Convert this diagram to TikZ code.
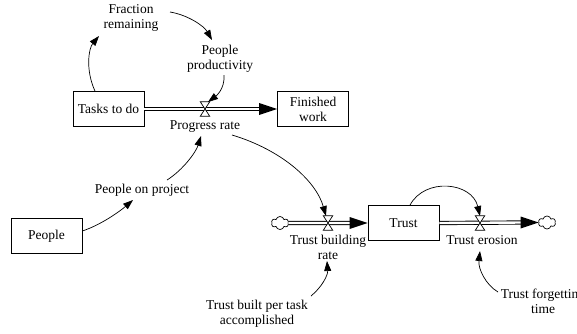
\documentclass[tikz,border=0pt]{standalone}
\usepackage{fontspec}
\setmainfont{Liberation Serif}
\usetikzlibrary{arrows.meta,calc,shapes.symbols}
\begin{document}
\begin{tikzpicture}[x=1pt,y=-1pt,
  every node/.style={font=\fontsize{13.5}{15}\selectfont, align=center},
  var/.style={inner sep=2pt},
  stock/.style={draw, line width=0.8pt, minimum width=71pt, minimum height=35pt, inner sep=1pt},
  valvept/.style={minimum width=9pt, minimum height=14pt, inner sep=0},
  valvedraw/.style={fill=white, line width=0.7pt},
  flowpipe/.style={double, double distance=2.4pt, line width=0.9pt},
  pipehead/.style={fill=black},
  infl/.style={line width=0.7pt, -{Triangle[length=10pt,width=7pt]}},
  cloudsrc/.style={cloud, draw, cloud puffs=6, cloud puff arc=150, aspect=1.4, minimum width=17pt, minimum height=13pt, inner sep=0, line width=0.7pt}
]
\useasboundingbox (0,0) rectangle (577,333);

% stocks
\node[stock] (tasks) at (108.5,109) {Tasks to do};
\node[stock] (fw) at (313,109) {Finished\\work};
\node[stock] (trust) at (403.5,223) {Trust};
\node[stock] (people) at (46.5,236) {People};

% variables
\node[var] (fr) at (131,17.5) {Fraction\\remaining};
\node[var] (pp) at (220,59) {People\\productivity};
\node[var] (pop) at (142,190) {People on project};
\node[var] (tbpt) at (257,313.5) {Trust built per task\\accomplished};
\node[var] (tft) at (543,301.5) {Trust forgetting\\time};

% valves and their labels
\node[valvept] (v1) at (205,109) {};
\node[var] (prl) at (205,127) {Progress rate};
\node[valvept] (v2) at (328,223) {};
\node[var] (tbr) at (328,247) {Trust building\\rate};
\node[valvept] (v3) at (480,223) {};
\node[var] (ter) at (482,240) {Trust erosion};

% clouds
\node[cloudsrc] (cl1) at (280,223) {};
\node[cloudsrc] (cl2) at (547,222.5) {};

% pipes
\draw[flowpipe] (cl1.east) -- ($(trust.west)+(-17,0)$);
\draw[flowpipe] (tasks.east) -- ($(fw.west)+(-17,0)$);
\fill[pipehead] (fw.west) -- ++(-18,-6) -- ++(0,12) -- cycle;
\fill[pipehead] (trust.west) -- ++(-18,-6) -- ++(0,12) -- cycle;
\draw[flowpipe] (trust.east) -- ($(cl2.west)+(-17,0)$);
\fill[pipehead] (cl2.west) -- ++(-18,-6) -- ++(0,12) -- cycle;

% valve glyphs
\foreach \v in {v1,v2,v3}
  \draw[valvedraw] (\v.north west) -- (\v.north east) -- (\v.south west) -- (\v.south east) -- cycle;

% influences
\draw[infl] ($(tasks.north)+(-13.5,0)$) .. controls +(-10,-22) and +(-10,12) .. ($(fr)+(-32,18.5)$);
\draw[infl] ($(fr)+(39,-5.5)$) .. controls +(18,3) and +(-8,-14) .. ($(pp)+(-8,-19)$);
\draw[infl] ($(pp)+(4,16)$) .. controls +(1,14) and +(8,-6) .. ($(v1)+(3,-7)$);
\draw[infl] ($(people.east)+(0,-5)$) .. controls +(18,-6) and +(-14,12) .. ($(pop)+(-9,10)$);
\draw[infl] ($(pop)+(25,-10)$) .. controls +(16,-10) and +(-5,16) .. ($(prl)+(-4,9)$);
\draw[infl] ($(prl)+(27,8)$) .. controls +(50,15) and +(-10,-35) .. ($(v2)+(-2,-7)$);
\draw[infl] ($(trust.north)+(6.5,0)$) .. controls +(15,-28) and +(-8,-34) .. ($(v3)+(0,-7)$);
\draw[infl] ($(tbpt)+(54,-17.5)$) .. controls +(11,-9) and +(1,14) .. ($(tbr)+(-1,14)$);
\draw[infl] ($(tft)+(-45,-9.5)$) .. controls +(-12,-7) and +(-2,18) .. ($(ter)+(-2,11)$);
\end{tikzpicture}
\end{document}
